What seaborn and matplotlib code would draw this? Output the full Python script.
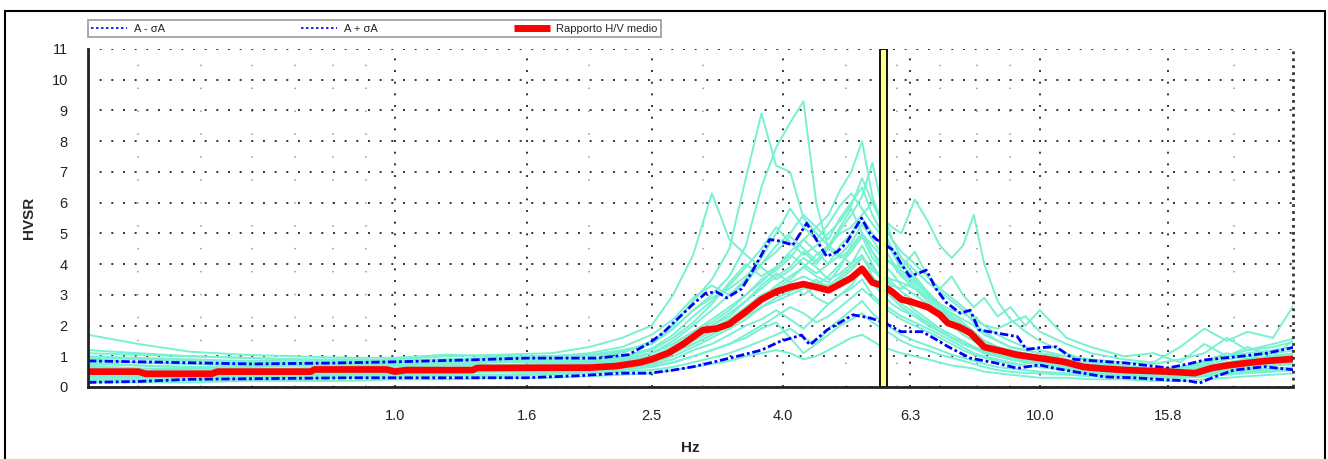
import numpy as np
import pandas as pd
import matplotlib
matplotlib.use("Agg")
import matplotlib.pyplot as plt
import seaborn as sns
from matplotlib.lines import Line2D
from matplotlib.patches import Rectangle
from matplotlib.ticker import MultipleLocator, NullFormatter

sns.set_style("white")
plt.rcParams["font.family"] = ["Liberation Sans", "DejaVu Sans"]

# ---------------- data ----------------
freq = [0.334, 0.40, 0.48, 0.58, 0.70, 0.85,
        1.0, 1.2, 1.45, 1.75,
        2.0, 2.25, 2.5, 2.7, 2.9,
        3.1, 3.3, 3.5, 3.7, 3.9,
        4.1, 4.3, 4.5, 4.7, 4.9,
        5.1, 5.3, 5.5, 5.7, 5.9,
        6.1, 6.4, 6.7, 7.0, 7.3,
        7.6, 7.9, 8.2, 8.6, 9.0,
        9.5, 10.0, 11.0, 12.0, 13.5,
        15.0, 16.5, 18.0, 19.5, 21.0,
        23.0, 25.0]

w01 = [1.7, 1.4, 1.15, 1.05, 1.0, 0.95, 0.95, 1.05, 1.0, 1.0, 1.05, 1.2, 1.4, 1.9, 2.5,
       3.0, 3.6, 4.6, 6.5, 7.8, 8.6, 9.3, 6.0, 4.5, 4.2, 4.5, 5.0, 4.4, 3.8, 3.2,
       2.9, 2.5, 2.2, 1.9, 1.6, 1.4, 1.3, 1.1, 1.0, 0.95, 0.9, 0.85, 0.7, 0.6, 0.5,
       0.45, 0.5, 0.7, 0.9, 1.0, 1.1, 1.2]
w02 = [1.2, 1.1, 1.0, 0.95, 0.9, 0.9, 0.85, 0.9, 0.95, 0.9, 1.0, 1.1, 1.5, 2.0, 2.8,
       3.5, 4.5, 6.8, 8.9, 7.2, 7.0, 5.5, 5.0, 4.6, 4.3, 4.0, 4.3, 3.6, 3.2, 2.9,
       2.6, 2.3, 2.0, 1.8, 1.6, 1.5, 1.3, 1.2, 1.05, 0.95, 0.85, 0.8, 0.7, 0.55, 0.5,
       0.5, 0.5, 0.6, 0.8, 0.9, 1.0, 1.1]
w03 = [1.1, 1.05, 1.0, 0.95, 0.9, 0.85, 0.9, 1.0, 1.05, 1.1, 1.3, 1.6, 2.0, 3.0, 4.3,
       6.3, 4.8, 4.3, 3.9, 3.5, 3.8, 4.2, 3.9, 3.5, 3.7, 4.0, 4.6, 4.0, 3.4, 3.0,
       2.7, 2.4, 2.1, 1.8, 1.6, 1.4, 1.25, 1.1, 1.0, 0.9, 0.8, 0.75, 0.6, 0.5, 0.45,
       0.4, 0.45, 0.55, 0.7, 0.8, 0.9, 1.0]
w04 = [0.9, 0.8, 0.75, 0.7, 0.7, 0.7, 0.7, 0.75, 0.7, 0.75, 0.8, 0.9, 1.1, 1.4, 1.8,
       2.2, 2.6, 3.0, 3.5, 3.8, 4.2, 4.8, 5.2, 5.6, 6.4, 7.0, 8.0, 6.2, 5.2, 4.5,
       4.0, 3.5, 3.0, 2.6, 2.2, 1.9, 1.6, 1.4, 1.2, 1.1, 1.0, 0.95, 0.8, 0.65, 0.55,
       0.5, 0.5, 0.6, 0.75, 0.85, 0.95, 1.05]
w05 = [0.7, 0.6, 0.55, 0.55, 0.55, 0.6, 0.6, 0.6, 0.65, 0.65, 0.7, 0.8, 1.0, 1.3, 1.7,
       2.0, 2.3, 2.8, 3.2, 3.6, 3.9, 4.4, 4.0, 4.5, 5.1, 5.6, 6.2, 7.3, 5.8, 4.8,
       4.2, 3.6, 3.1, 2.7, 2.3, 2.0, 1.7, 1.5, 1.3, 1.1, 1.0, 0.9, 0.75, 0.6, 0.55,
       0.5, 0.45, 0.55, 0.7, 0.8, 0.9, 1.0]
w06 = [0.8, 0.7, 0.65, 0.6, 0.6, 0.6, 0.65, 0.7, 0.7, 0.7, 0.75, 0.85, 1.0, 1.2, 1.5,
       1.8, 2.1, 2.5, 2.9, 3.3, 3.6, 3.9, 4.3, 4.6, 5.0, 5.2, 5.6, 6.0, 5.5, 5.2,
       5.0, 6.1, 5.4, 4.6, 4.2, 4.6, 5.6, 4.0, 2.8, 2.2, 1.8, 1.5, 1.1, 0.8, 0.65,
       0.55, 0.5, 0.6, 0.75, 0.9, 1.0, 1.1]
w07 = [0.6, 0.55, 0.5, 0.5, 0.55, 0.6, 0.6, 0.6, 0.65, 0.7, 0.75, 0.85, 1.1, 1.5, 2.0,
       2.5, 3.0, 3.5, 4.0, 4.6, 5.0, 5.6, 5.2, 4.8, 5.5, 6.0, 6.5, 5.6, 5.0, 4.4,
       3.8, 3.4, 3.0, 2.6, 2.3, 2.0, 1.8, 1.5, 1.3, 1.15, 1.05, 0.95, 0.85, 0.7, 0.6,
       0.55, 0.55, 0.65, 0.8, 0.9, 1.0, 1.1]
w08 = [0.5, 0.45, 0.45, 0.45, 0.5, 0.55, 0.55, 0.6, 0.6, 0.65, 0.7, 0.8, 1.0, 1.3, 1.7,
       2.0, 2.4, 2.8, 3.3, 3.7, 3.4, 3.0, 3.3, 3.6, 4.0, 4.4, 4.9, 4.2, 3.8, 3.4,
       3.1, 2.8, 2.6, 2.3, 2.0, 1.7, 1.5, 1.3, 1.15, 1.0, 0.9, 0.85, 0.75, 0.6, 0.55,
       0.5, 0.45, 0.5, 0.6, 0.7, 0.8, 0.85]
w09 = [0.4, 0.4, 0.4, 0.45, 0.45, 0.5, 0.5, 0.55, 0.55, 0.6, 0.65, 0.7, 0.85, 1.1, 1.4,
       1.7, 2.0, 2.3, 2.6, 2.9, 3.1, 3.3, 2.9, 2.7, 3.0, 3.3, 3.8, 3.4, 3.0, 2.7,
       2.5, 2.3, 2.1, 1.9, 1.7, 1.5, 1.3, 1.15, 1.0, 0.9, 0.8, 0.75, 0.65, 0.55, 0.5,
       0.45, 0.4, 0.5, 0.6, 0.65, 0.75, 0.8]
w10 = [0.3, 0.3, 0.3, 0.35, 0.35, 0.4, 0.4, 0.45, 0.5, 0.5, 0.55, 0.6, 0.7, 0.8, 1.0,
       1.2, 1.4, 1.6, 1.9, 2.1, 1.6, 1.1, 1.4, 1.9, 2.2, 2.5, 2.8, 2.4, 2.1, 1.9,
       1.7, 1.5, 1.35, 1.2, 1.05, 0.95, 0.85, 0.75, 0.65, 0.6, 0.55, 0.5, 0.45, 0.4, 0.35,
       0.3, 0.3, 0.35, 0.45, 0.5, 0.55, 0.6]
w11 = [0.15, 0.15, 0.15, 0.2, 0.2, 0.2, 0.25, 0.25, 0.3, 0.3, 0.35, 0.4, 0.45, 0.55, 0.65,
       0.75, 0.85, 1.0, 1.1, 1.2, 1.1, 0.9, 1.0, 1.2, 1.4, 1.6, 1.7, 1.5, 1.3, 1.2,
       1.1, 1.0, 0.9, 0.8, 0.7, 0.65, 0.6, 0.5, 0.45, 0.4, 0.35, 0.3, 0.3, 0.25, 0.25,
       0.2, 0.2, 0.25, 0.3, 0.35, 0.4, 0.45]
w12 = [0.95, 0.9, 0.85, 0.8, 0.8, 0.8, 0.8, 0.85, 0.9, 0.95, 1.0, 1.15, 1.4, 1.9, 2.5,
       2.9, 3.2, 3.6, 4.2, 5.0, 5.8, 5.2, 4.8, 5.3, 5.9, 6.3, 5.8, 5.3, 4.9, 4.5,
       4.2, 3.8, 3.4, 3.1, 2.8, 2.5, 2.1, 1.8, 1.5, 1.3, 1.2, 1.1, 0.9, 0.75, 0.65,
       0.6, 0.6, 0.75, 1.0, 1.2, 1.3, 1.5]
w13 = [0.55, 0.5, 0.5, 0.5, 0.5, 0.5, 0.55, 0.55, 0.6, 0.6, 0.65, 0.75, 0.9, 1.1, 1.4,
       1.7, 2.0, 2.4, 2.8, 3.1, 3.4, 3.6, 3.4, 3.3, 3.6, 3.9, 4.2, 3.8, 3.5, 3.3,
       3.2, 3.5, 3.0, 2.7, 2.5, 2.4, 2.2, 2.0, 1.9, 2.1, 2.3, 1.8, 1.4, 1.1, 0.9,
       0.8, 1.3, 1.9, 1.5, 1.8, 1.6, 2.8]
w14 = [0.75, 0.7, 0.65, 0.65, 0.7, 0.7, 0.7, 0.75, 0.8, 0.8, 0.85, 0.95, 1.2, 1.6, 2.1,
       2.7, 3.4, 4.0, 3.6, 3.9, 4.4, 4.8, 4.4, 4.0, 4.3, 4.7, 5.3, 4.8, 4.3, 4.0,
       3.6, 3.2, 2.8, 2.5, 2.2, 1.9, 1.7, 1.5, 1.3, 1.2, 1.1, 1.0, 0.85, 0.7, 0.6,
       0.55, 0.5, 0.6, 0.75, 0.85, 0.95, 1.05]
w15 = [0.25, 0.25, 0.25, 0.3, 0.3, 0.35, 0.35, 0.4, 0.4, 0.45, 0.5, 0.55, 0.65, 0.8, 1.0,
       1.2, 1.4, 1.7, 2.0, 2.3, 2.6, 2.4, 2.1, 2.3, 2.6, 2.9, 3.2, 2.9, 2.6, 2.4,
       2.2, 2.0, 1.8, 1.6, 1.4, 1.2, 1.05, 0.95, 0.85, 0.75, 0.7, 0.65, 0.55, 0.45, 0.4,
       0.35, 0.35, 0.4, 0.5, 0.55, 0.6, 0.65]
w16 = [0.45, 0.45, 0.45, 0.45, 0.5, 0.5, 0.5, 0.5, 0.55, 0.55, 0.6, 0.7, 0.8, 1.0, 1.3,
       1.6, 1.9, 2.2, 2.6, 2.8, 3.0, 3.2, 3.5, 3.2, 3.5, 3.8, 4.2, 3.9, 3.6, 3.5,
       3.4, 3.2, 2.9, 2.6, 2.4, 2.1, 1.8, 1.5, 1.3, 1.15, 1.05, 0.95, 0.8, 0.65, 0.55,
       0.5, 0.5, 0.55, 0.7, 0.8, 0.9, 1.0]
w17 = [0.65, 0.6, 0.6, 0.6, 0.6, 0.65, 0.65, 0.7, 0.7, 0.75, 0.8, 0.9, 1.1, 1.4, 1.8,
       2.1, 2.5, 3.0, 3.4, 3.9, 4.3, 4.0, 3.7, 4.0, 4.6, 5.0, 5.5, 5.0, 4.6, 4.1,
       3.7, 3.3, 2.9, 2.6, 2.4, 2.2, 2.0, 1.7, 1.5, 1.3, 1.2, 1.1, 1.0, 0.9, 0.8,
       0.75, 0.9, 1.1, 1.6, 1.2, 1.4, 1.6]
w18 = [0.35, 0.35, 0.35, 0.4, 0.4, 0.45, 0.45, 0.5, 0.5, 0.5, 0.55, 0.65, 0.75, 0.9, 1.2,
       1.4, 1.7, 2.0, 2.2, 2.5, 2.2, 1.9, 2.3, 2.7, 3.0, 3.2, 3.5, 3.0, 2.7, 2.5,
       2.3, 2.1, 1.9, 1.7, 1.5, 1.3, 1.1, 1.0, 0.9, 0.8, 0.7, 0.65, 0.55, 0.45, 0.45,
       0.4, 0.4, 0.45, 0.55, 0.6, 0.7, 0.75]
w19 = [1.0, 0.95, 0.9, 0.85, 0.85, 0.85, 0.85, 0.9, 0.95, 1.0, 1.1, 1.3, 1.7, 2.2, 2.9,
       3.3, 3.0, 3.4, 4.0, 4.4, 4.9, 4.5, 4.1, 4.6, 5.2, 5.8, 5.0, 4.6, 4.2, 4.0,
       3.9, 4.4, 3.6, 3.2, 3.6, 3.0, 2.6, 2.9, 2.3, 2.6, 2.0, 2.5, 1.6, 1.3, 1.0,
       1.1, 0.8, 1.4, 1.0, 1.3, 1.0, 1.6]
w20 = [0.55, 0.5, 0.5, 0.55, 0.55, 0.55, 0.6, 0.6, 0.6, 0.6, 0.65, 0.7, 0.9, 1.2, 1.6,
       1.9, 2.2, 2.6, 3.0, 3.2, 3.5, 3.9, 3.6, 3.4, 3.9, 4.6, 5.0, 4.4, 4.0, 3.7,
       3.3, 3.0, 2.7, 2.4, 2.1, 1.8, 1.6, 1.4, 1.2, 1.05, 0.95, 0.9, 0.8, 0.65, 0.55,
       0.5, 0.6, 0.85, 1.1, 0.9, 1.2, 1.3]
w21 = [0.2, 0.2, 0.22, 0.25, 0.25, 0.3, 0.3, 0.35, 0.35, 0.4, 0.45, 0.5, 0.55, 0.65, 0.8,
       0.95, 1.1, 1.3, 1.5, 1.7, 1.9, 1.6, 1.4, 1.7, 2.0, 2.2, 2.4, 2.1, 1.9, 1.7,
       1.5, 1.3, 1.2, 1.05, 0.95, 0.85, 0.75, 0.65, 0.55, 0.5, 0.45, 0.45, 0.4, 0.35, 0.3,
       0.3, 0.3, 0.35, 0.4, 0.45, 0.5, 0.55]
w22 = [0.85, 0.8, 0.75, 0.75, 0.75, 0.75, 0.75, 0.8, 0.85, 0.85, 0.9, 1.0, 1.25, 1.7, 2.3,
       2.8, 3.3, 3.9, 4.5, 5.2, 4.7, 4.3, 4.6, 5.0, 5.4, 5.9, 6.8, 6.0, 5.3, 4.8,
       4.4, 4.0, 3.6, 3.2, 2.9, 2.6, 2.3, 2.0, 1.7, 1.5, 1.3, 1.2, 1.0, 0.85, 0.7,
       0.6, 0.65, 0.8, 1.0, 1.1, 1.2, 1.3]
windows = [w01, w02, w03, w04, w05, w06, w07, w08, w09, w10, w11,
           w12, w13, w14, w15, w16, w17, w18, w19, w20, w21, w22]

mean_f = [0.334, 0.40, 0.41, 0.52, 0.53, 0.74, 0.75, 0.97, 1.0, 1.04,
          1.32, 1.34, 2.0, 2.2, 2.4, 2.5, 2.65, 2.8, 3.0, 3.15,
          3.3, 3.5, 3.7, 3.9, 4.1, 4.3, 4.5, 4.7, 4.9, 5.1,
          5.3, 5.5, 5.7, 5.9, 6.1, 6.3, 6.7, 7.0, 7.2, 7.5,
          7.8, 8.2, 8.8, 9.2, 9.7, 10.3, 10.9, 11.7, 12.5, 13.6,
          14.5, 15.8, 17.4, 18.5, 19.5, 20.9, 22.5, 25.0]
mean_v = [0.5, 0.5, 0.43, 0.43, 0.5, 0.5, 0.57, 0.57, 0.5, 0.55,
          0.55, 0.62, 0.63, 0.68, 0.8, 0.9, 1.1, 1.4, 1.85, 1.9,
          2.05, 2.45, 2.85, 3.1, 3.25, 3.35, 3.25, 3.15, 3.35, 3.55,
          3.85, 3.4, 3.3, 3.1, 2.85, 2.78, 2.6, 2.35, 2.08, 1.95,
          1.76, 1.3, 1.15, 1.05, 0.98, 0.9, 0.82, 0.65, 0.6, 0.55,
          0.53, 0.5, 0.45, 0.62, 0.7, 0.78, 0.85, 0.92]

up_f = [0.334, 0.45, 0.6, 0.8, 1.0, 1.3, 1.6, 2.06, 2.3, 2.48,
        2.6, 2.73, 2.9, 3.03, 3.15, 3.27, 3.45, 3.59, 3.7, 3.81,
        3.95, 4.14, 4.35, 4.5, 4.67, 4.85, 5.01, 5.15, 5.29, 5.45,
        5.58, 5.92, 6.1, 6.28, 6.67, 6.9, 7.16, 7.53, 7.8, 8.04,
        8.55, 9.23, 9.53, 10.0, 10.6, 11.3, 12.2, 13.6, 15.8, 17.0,
        18.0, 20.3, 22.5, 25.0]
up_v = [0.85, 0.8, 0.75, 0.78, 0.82, 0.88, 0.94, 0.94, 1.05, 1.43,
        1.75, 2.18, 2.7, 3.05, 3.1, 2.9, 3.2, 3.8, 4.3, 4.8,
        4.75, 4.62, 5.33, 4.8, 4.25, 4.4, 4.68, 5.1, 5.5, 5.0,
        4.8, 4.46, 4.0, 3.6, 3.8, 3.2, 2.75, 2.4, 2.5, 1.86,
        1.76, 1.64, 1.22, 1.28, 1.31, 0.9, 0.85, 0.78, 0.62, 0.75,
        0.88, 0.99, 1.1, 1.31]

lo_f = [0.334, 0.40, 0.48, 0.6, 0.85, 1.2, 1.6, 1.94, 2.23, 2.48,
        2.7, 2.9, 3.1, 3.38, 3.7, 3.95, 4.27, 4.4, 4.68, 4.9,
        5.13, 5.47, 5.77, 6.09, 6.57, 6.9, 7.21, 7.8, 8.55, 9.23,
        9.98, 10.6, 11.3, 12.6, 14.0, 15.8, 17.0, 17.7, 18.5, 20.0,
        22.3, 25.0]
lo_v = [0.15, 0.18, 0.25, 0.27, 0.3, 0.3, 0.3, 0.37, 0.45, 0.45,
        0.55, 0.66, 0.8, 0.99, 1.2, 1.48, 1.69, 1.37, 1.86, 2.1,
        2.35, 2.24, 2.07, 1.8, 1.8, 1.55, 1.31, 0.94, 0.78, 0.61,
        0.72, 0.6, 0.5, 0.33, 0.3, 0.23, 0.2, 0.13, 0.3, 0.55,
        0.66, 0.55]

peak_band = [5.65, 5.79]
x_major = [1.0, 1.6, 2.5, 4.0, 6.3, 10.0, 15.8]
x_major_labels = ["1.0", "1.6", "2.5", "4.0", "6.3", "10.0", "15.8"]
x_minor = [0.4, 0.5, 0.6, 0.7, 0.8, 0.9, 2.0, 3.0, 5.0, 6.0, 7.0, 8.0, 9.0, 20.0]
y_ticks = list(range(0, 12))
legend_labels = ["A - \u03c3A", "A + \u03c3A", "Rapporto H/V medio"]

# ---------------- figure ----------------
W, H = 1328, 459
fig = plt.figure(figsize=(W / 100, H / 100), dpi=100)
ax = fig.add_axes([88 / W, (H - 387) / H, (1293 - 88) / W, (387 - 49) / H])

XMIN, XMAX = 0.334, 24.7
win_color = "#78f0d2"
for w in windows:
    sns.lineplot(x=freq, y=w, ax=ax, color=win_color, lw=1.4, sort=False,
                 estimator=None, legend=False, zorder=2)

blue_ls = (0, (3, 1, 1, 1))
sns.lineplot(x=lo_f, y=lo_v, ax=ax, color="#0000ff", lw=2.0, linestyle=blue_ls,
             sort=False, estimator=None, legend=False, zorder=4)
sns.lineplot(x=up_f, y=up_v, ax=ax, color="#0000ff", lw=2.0, linestyle=blue_ls,
             sort=False, estimator=None, legend=False, zorder=4)
sns.lineplot(x=mean_f, y=mean_v, ax=ax, color="#ff0000", lw=4.8,
             sort=False, estimator=None, legend=False, zorder=5)

ax.axvspan(peak_band[0], peak_band[1], facecolor="#ffff8c", edgecolor="black",
           lw=1.3, zorder=6)

ax.set_xscale("log")
ax.set_xlim(XMIN, XMAX)
ax.set_ylim(0, 11)

ax.set_xticks(x_major)
ax.set_xticklabels(x_major_labels)
ax.set_xticks(x_minor, minor=True)
ax.xaxis.set_minor_formatter(NullFormatter())
ax.set_yticks(y_ticks)
ax.set_yticklabels([str(v) for v in y_ticks])
ax.yaxis.set_minor_locator(MultipleLocator(0.2))

ax.tick_params(axis="both", which="major", direction="inout", length=9,
               width=1.3, colors="#111111", labelsize=10.5)
ax.tick_params(axis="x", which="major", pad=11)
ax.tick_params(axis="y", which="major", pad=10)
ax.tick_params(axis="both", which="minor", direction="inout", length=5,
               width=1.1, colors="#111111")
for lab in ax.get_xticklabels() + ax.get_yticklabels():
    lab.set_color("#222222")

ax.grid(which="major", axis="both", color="#333333", lw=1.4,
        linestyle=(0, (1, 5)))
ax.grid(which="minor", axis="x", color="#999999", lw=1.1,
        linestyle=(0, (1, 14)))
ax.set_axisbelow(True)

for s in ["top", "right"]:
    ax.spines[s].set_visible(False)
for s in ["left", "bottom"]:
    ax.spines[s].set_linewidth(2.0)
    ax.spines[s].set_color("#222222")
    ax.spines[s].set_zorder(7)
ax.axvline(XMAX, color="#333333", lw=2.0, linestyle=(0, (1, 1.5)),
           clip_on=False, zorder=7)

ax.set_xlabel("Hz", fontsize=11, fontweight="bold")
ax.set_ylabel("HVSR", fontsize=11, fontweight="bold")
ax.xaxis.set_label_coords(0.5, -0.16)
ax.yaxis.set_label_coords(-0.043, 0.5)

handles = [Line2D([], [], color="#0000ff", lw=1.2, linestyle=(0, (1.5, 1.5))),
           Line2D([], [], color="#0000ff", lw=1.2, linestyle=(0, (1.5, 1.5))),
           Line2D([], [], color="#ff0000", lw=5, solid_capstyle="butt")]
leg = fig.legend(handles, legend_labels, loc="lower left",
                 bbox_to_anchor=(88 / W, 1 - 37 / H, (661 - 88) / W, 15 / H),
                 mode="expand", ncol=3, fontsize=8, frameon=True,
                 fancybox=False, edgecolor="#808080", borderpad=0.3,
                 handlelength=3.2, handletextpad=0.6, borderaxespad=0)
leg.get_frame().set_linewidth(1.2)

fig.add_artist(Rectangle((5 / W, -0.05), 1320 / W, (H - 11) / H + 0.05,
                         transform=fig.transFigure, fill=False,
                         edgecolor="black", lw=1.5))

fig.savefig("out.png", dpi=100)
